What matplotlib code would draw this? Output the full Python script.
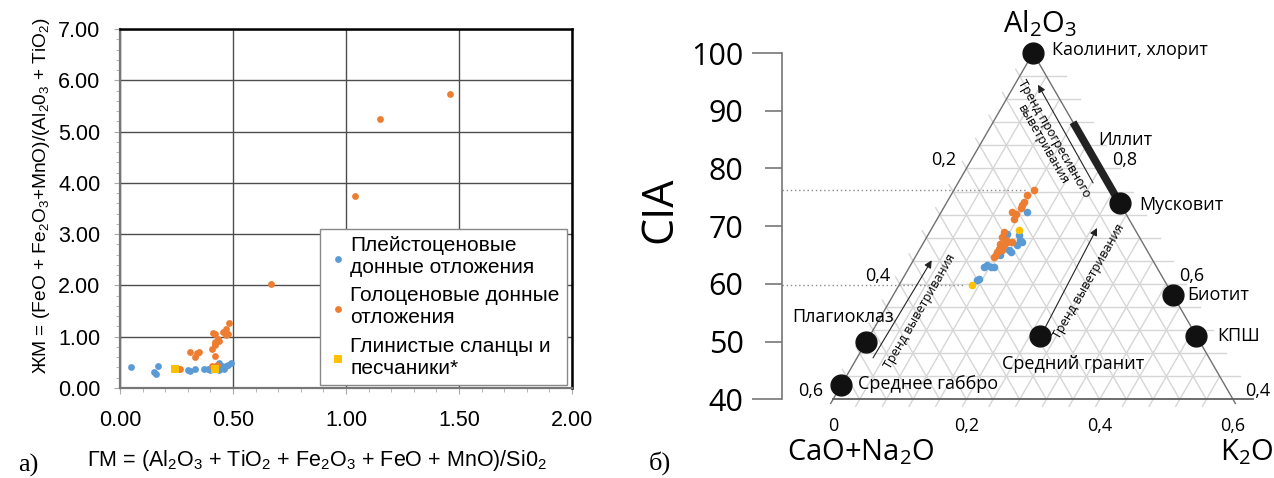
import numpy as np
import matplotlib
matplotlib.use('Agg')
import matplotlib.pyplot as plt
from matplotlib.ticker import FormatStrFormatter

plt.rcParams['font.family'] = ['Liberation Sans', 'DejaVu Sans']
plt.rcParams['mathtext.default'] = 'regular'

# ---- panel a: GM vs ZhM
pleist_gm = [0.05, 0.15, 0.16, 0.17, 0.26, 0.30, 0.31, 0.33, 0.37, 0.39, 0.40, 0.42, 0.435, 0.44, 0.45, 0.46, 0.47, 0.48, 0.49, 0.44]
pleist_zm = [0.41, 0.32, 0.27, 0.43, 0.38, 0.36, 0.34, 0.38, 0.38, 0.37, 0.36, 0.40, 0.38, 0.48, 0.42, 0.38, 0.42, 0.45, 0.48, 0.36]
holo_gm = [0.265, 0.31, 0.33, 0.34, 0.35, 0.405, 0.41, 0.42, 0.42, 0.42, 0.435, 0.44, 0.42, 0.42,
           0.457, 0.47, 0.48, 0.484, 0.47, 0.405, 0.43, 0.67, 1.04, 1.15, 1.46]
holo_zm = [0.38, 0.70, 0.61, 0.69, 0.71, 0.77, 1.08, 1.06, 0.86, 0.89, 0.95, 0.92, 0.83, 0.62,
           1.10, 1.15, 1.06, 1.26, 1.03, 0.42, 0.45, 2.03, 3.74, 5.25, 5.73]
shale_gm = [0.243, 0.42]
shale_zm = [0.37, 0.365]

# ---- panel b: A-CN-K (CIA = Al2O3 share, K = K2O share, in %)
pleist_cia = [72.5, 68.4, 67.6, 67.3, 66.7, 65.8, 65.5, 65.0, 63.2, 62.9, 62.9, 62.9, 60.9, 60.6, 68.7]
pleist_k = [12.9, 13.7, 14.3, 14.7, 14.3, 13.5, 13.9, 12.6, 11.5, 12.2, 12.7, 11.2, 11.4, 11.3, 11.8]
holo_cia = [76.2, 75.4, 74.2, 73.7, 73.1, 72.5, 72.2, 71.3, 69.0, 68.1, 67.6, 67.0, 67.3, 67.3,
            66.1, 65.5, 65.0, 64.6, 65.8, 66.7]
holo_k = [12.0, 11.4, 11.5, 11.5, 11.6, 10.6, 11.3, 11.5, 11.1, 11.3, 12.1, 11.6, 12.5, 13.2,
          11.8, 11.9, 11.9, 11.8, 12.5, 12.3]
shale_cia = [69.3, 59.9]
shale_k = [13.3, 10.9]

mineral_names = ['Каолинит, хлорит', 'Мусковит', 'Биотит', 'КПШ', 'Средний гранит', 'Плагиоклаз', 'Среднее габбро']
mineral_cia = [100, 74, 58, 51, 51, 50, 42.5]
mineral_k = [0, 26, 42, 49, 25.5, 0, 0]
illite_cia = [88, 75]
illite_k = [12, 25]

cn_labels = ['0,2', '0,4', '0,6']
a_labels = ['0,8', '0,6', '0,4']
k_labels = ['0', '0,2', '0,4', '0,6']
cia_ticks = [40, 50, 60, 70, 80, 90, 100]

W, H = 1274, 478
fig = plt.figure(figsize=(W / 100, H / 100), dpi=100)

# ================= panel a
ax = fig.add_axes([120 / W, (H - 388) / H, 452 / W, 359 / H])
ax.scatter(pleist_gm, pleist_zm, s=24, color='#5B9BD5', lw=0, zorder=3,
           label='Плейстоценовые\nдонные отложения')
ax.scatter(holo_gm, holo_zm, s=24, color='#ED7D31', lw=0, zorder=3,
           label='Голоценовые донные\nотложения')
ax.scatter(shale_gm, shale_zm, s=30, marker='s', color='#FFC000', lw=0, zorder=4,
           label='Глинистые сланцы и\nпесчаники*')
ax.set_xlim(0, 2)
ax.set_ylim(0, 7)
ax.set_xticks(np.arange(0, 2.01, 0.5))
ax.set_yticks(range(8))
ax.set_xticks(np.arange(0, 2.01, 0.1), minor=True)
ax.set_yticks(np.arange(0, 7.01, 0.2), minor=True)
ax.xaxis.set_major_formatter(FormatStrFormatter('%.2f'))
ax.yaxis.set_major_formatter(FormatStrFormatter('%.2f'))
ax.grid(True, which='major', color='#4d4d4d', lw=1)
ax.tick_params(which='both', direction='out', color='#aaaaaa', labelsize=15.5)
ax.tick_params(axis='y', pad=10)
ax.tick_params(axis='x', pad=12)
ax.tick_params(which='major', length=4)
ax.tick_params(which='minor', length=3)
for s in ['left', 'bottom']:
    ax.spines[s].set_color('#777777')
    ax.spines[s].set_linewidth(1.6)
for s in ['top', 'right']:
    ax.spines[s].set_color('black')
    ax.spines[s].set_linewidth(1.8)
ax.set_ylabel('ЖМ = (FeO + Fe$_2$O$_3$+MnO)/(Al$_2$0$_3$ + TiO$_2$)', fontsize=13.8)
ax.yaxis.set_label_coords(-0.15, 0.535)
ax.set_xlabel('ГМ = (Al$_2$O$_3$ + TiO$_2$ + Fe$_2$O$_3$ + FeO + MnO)/Si0$_2$', fontsize=15.5)
ax.xaxis.set_label_coords(0.436, -0.168)
leg = ax.legend(loc='lower right', bbox_to_anchor=(0.989, 0.008), fontsize=15, fancybox=False,
                edgecolor='#888888', framealpha=1, handletextpad=0.1, handlelength=1.0,
                borderpad=0.35, labelspacing=0.45, markerscale=1.0, borderaxespad=0)
leg.get_frame().set_linewidth(1)

fig.text(28 / W, 1 - 465 / H, 'а)', fontsize=19, family=['Liberation Serif', 'DejaVu Serif'],
         ha='center', va='center')
fig.text(660 / W, 1 - 463 / H, 'б)', fontsize=19, family=['Liberation Serif', 'DejaVu Serif'],
         ha='center', va='center')

# ================= panel b
fam = ['Open Sans', 'DejaVu Sans']
axb = fig.add_axes([640 / W, 0, (W - 640) / W, 1])
axb.set_xlim(-8.95, 86.14)
axb.set_ylim(26.39, 109.18)
axb.patch.set_visible(False)


def tern(cia, k):
    cia = np.asarray(cia, float)
    k = np.asarray(k, float)
    return k + cia / 2, cia


grid_c = '#d6d6d6'
edge_c = '#707070'
# horizontal (constant Al2O3)
for a in np.arange(44, 97, 4):
    x0, y0 = tern(a, 0)
    x1, y1 = tern(a, 100 - a)
    axb.plot([x0, x1 + 3], [y0, y1], color=grid_c, lw=1, zorder=1)
# constant K2O, ticks below bottom
for k in np.arange(4, 57, 4):
    x0, y0 = tern(40, k)
    x1, y1 = tern(100 - k, k)
    axb.plot([x0 - 0.6, x1], [y0 - 1.2, y1], color=grid_c, lw=1, zorder=1)
# constant CaO+Na2O, ticks outside left edge
for c in np.arange(4, 57, 4):
    x0, y0 = tern(40, 60 - c)
    x1, y1 = tern(100 - c, 0)
    axb.plot([x0, x1 - 0.6], [y0, y1 + 1.2], color=grid_c, lw=1, zorder=1)

# edges
ex, ey = tern([39.3, 100], [0, 0])
axb.plot(ex, ey, color=edge_c, lw=1, zorder=2)
ex, ey = tern([39.3, 100], [60.7, 0])
axb.plot(ex, ey, color=edge_c, lw=1, zorder=2)
ex, ey = tern([40, 40], [0, 60])
axb.plot([ex[0], ex[1] + 3], ey, color='#606060', lw=1.3, zorder=2)

# CIA axis
spine_x = 12.35
axb.spines['left'].set_position(('data', spine_x))
axb.spines['left'].set_bounds(40, 100)
axb.spines['left'].set_color('#777777')
axb.spines['left'].set_linewidth(1.2)
for s in ['top', 'right', 'bottom']:
    axb.spines[s].set_visible(False)
axb.xaxis.set_visible(False)
axb.set_yticks(cia_ticks)
axb.tick_params(axis='y', direction='out', length=12.2, width=1.2, color='#777777',
                labelsize=22, pad=15.5)
for lab in axb.get_yticklabels():
    lab.set_family(fam)
yt = axb.yaxis.get_major_ticks()
for t in (yt[0], yt[-1]):
    t.tick1line.set_markersize(21.6)
axb.text(-5.95, 72.8, 'CIA', rotation=90, fontsize=31, family=fam, ha='center', va='center')

# dotted CIA range of samples
all_cia = np.array(pleist_cia + holo_cia + shale_cia)
all_k = np.array(pleist_k + holo_k + shale_k)
for idx in (np.argmax(all_cia), np.argmin(all_cia)):
    px, py = tern(all_cia[idx], all_k[idx])
    axb.plot([spine_x, px - 1], [py, py], color='#8a8a8a', lw=1, ls=(0, (1, 2)), zorder=2)

# samples
x, y = tern(pleist_cia, pleist_k)
axb.scatter(x, y, s=30, color='#5B9BD5', lw=0, zorder=3)
x, y = tern(holo_cia, holo_k)
axb.scatter(x, y, s=30, color='#ED7D31', lw=0, zorder=3)
x, y = tern(shale_cia, shale_k)
axb.scatter(x, y, s=30, color='#FFC000', lw=0, zorder=4)

# illite
x, y = tern(illite_cia, illite_k)
axb.plot(x, y, color='#222222', lw=5.5, solid_capstyle='butt', zorder=4)
axb.text(63.8, 84.9, 'Иллит', fontsize=13, family=fam, ha='center', va='center')

# minerals
x, y = tern(mineral_cia, mineral_k)
axb.plot(x, y, 'o', ms=15, color='#111111', zorder=5, ls='none')
offsets = [(14, 2, 'left'), (14, -1, 'left'), (10, 0, 'left'), (15, 0, 'left'),
           (24, -20, 'center'), (-17, 18, 'center'), (12, 1, 'left')]
for name, xi, yi, (dx, dy, ha) in zip(mineral_names, x, y, offsets):
    axb.annotate(name, (xi, yi), xytext=(dx, dy), textcoords='offset points',
                 fontsize=13, family=fam, ha=ha, va='center', zorder=6)

# axis tick labels
for lab, a in zip(cn_labels, [80, 60, 40]):
    xi, yi = tern(a, 0)
    axb.annotate(lab, (xi, yi), xytext=(-7, 6), textcoords='offset points',
                 fontsize=13, family=fam, ha='right', va='center')
for lab, a in zip(a_labels, [80, 60, 40]):
    xi, yi = tern(a, 100 - a)
    axb.annotate(lab, (xi, yi), xytext=(9, 6), textcoords='offset points',
                 fontsize=13, family=fam, ha='left', va='center')
for lab, k in zip(k_labels, [0, 20, 40, 60]):
    xi, yi = tern(40, k)
    axb.annotate(lab, (xi, yi), xytext=(0, -19), textcoords='offset points',
                 fontsize=13, family=fam, ha='center', va='center')

axb.text(51.0, 105.0, 'Al$_2$O$_3$', fontsize=21, family=fam, ha='center', va='center')
axb.text(82.0, 30.9, 'K$_2$O', fontsize=21, family=fam, ha='center', va='center')
axb.text(24.2, 30.9, 'CaO+Na$_2$O', fontsize=21, family=fam, ha='center', va='center')

# trend arrows
ap = dict(arrowstyle='-|>', lw=0.8, color='#222222', mutation_scale=11, shrinkA=0, shrinkB=0)
axb.annotate('', xy=(50.75, 94.5), xytext=(59.0, 77.5), arrowprops=ap)
axb.annotate('', xy=(59.6, 69.7), xytext=(51.8, 52.4), arrowprops=ap)
axb.annotate('', xy=(34.8, 64.1), xytext=(26.0, 47.2), arrowprops=ap)
axb.text(52.3, 84.6, 'Тренд прогресивного\nвыветривания', rotation=-60, rotation_mode='anchor',
         fontsize=9, family=fam, ha='center', va='center', multialignment='center', linespacing=1.0)
axb.text(58.4, 60.5, 'Тренд выветривания', rotation=60, rotation_mode='anchor',
         fontsize=9, family=fam, ha='center', va='center')
axb.text(33.0, 55.3, 'Тренд выветривания', rotation=60, rotation_mode='anchor',
         fontsize=9, family=fam, ha='center', va='center')

fig.savefig('out.png', dpi=100)
